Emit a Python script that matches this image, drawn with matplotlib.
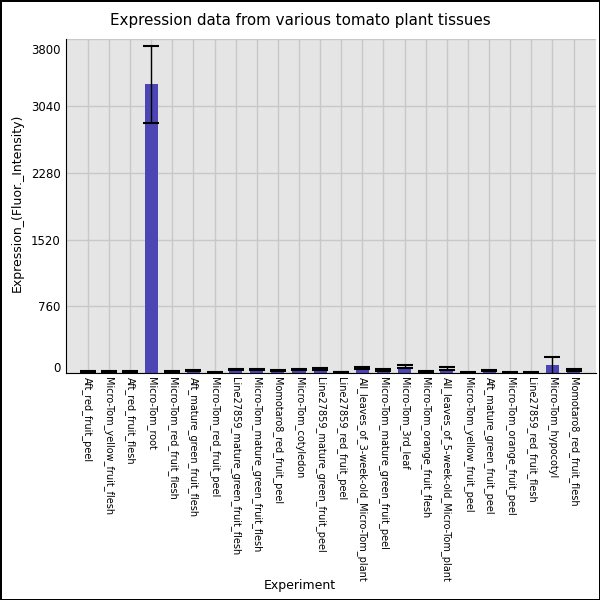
import matplotlib
matplotlib.use("Agg")
import matplotlib.pyplot as plt
import matplotlib.transforms as mtransforms
import numpy as np

categories = [
    "Aft_red_fruit_peel",
    "Micro-Tom_yellow_fruit_flesh",
    "Aft_red_fruit_flesh",
    "Micro-Tom_root",
    "Micro-Tom_red_fruit_flesh",
    "Aft_mature_green_fruit_flesh",
    "Micro-Tom_red_fruit_peel",
    "Line27859_mature_green_fruit_flesh",
    "Micro-Tom_mature_green_fruit_flesh",
    "Momotaro8_red_fruit_peel",
    "Micro-Tom_cotyledon",
    "Line27859_mature_green_fruit_peel",
    "Line27859_red_fruit_peel",
    "All_leaves_of_3-week-old_Micro-Tom_plant",
    "Micro-Tom_mature_green_fruit_peel",
    "Micro-Tom_3rd_leaf",
    "Micro-Tom_orange_fruit_flesh",
    "All_leaves_of_5-week-old_Micro-Tom_plant",
    "Micro-Tom_yellow_fruit_peel",
    "Aft_mature_green_fruit_peel",
    "Micro-Tom_orange_fruit_peel",
    "Line27859_red_fruit_flesh",
    "Micro-Tom_hypocotyl",
    "Momotaro8_red_fruit_flesh",
]
values = [15, 20, 18, 3283, 22, 30, 12, 45, 45, 28, 40, 50,
          14, 58, 35, 75, 15, 52, 12, 30, 12, 10, 90, 35]
errors = [8, 6, 6, 443, 6, 8, 5, 8, 8, 6, 8, 8,
          5, 14, 9, 14, 6, 14, 5, 8, 5, 4, 95, 8]
yticks = [0, 760, 1520, 2280, 3040, 3800]

fig = plt.figure(figsize=(6, 6), dpi=100)
fig.patch.set_edgecolor("black")
fig.patch.set_linewidth(2)
ax = fig.add_axes([0.11, 0.378, 0.883, 0.557])
ax.set_facecolor("#e5e5e5")
x = np.arange(len(categories))
ax.bar(x, values, width=0.62, color="#4c46b5", zorder=2)
ax.errorbar(x, values, yerr=errors, fmt="none", ecolor="black",
            elinewidth=1, capsize=5.5, capthick=1.5, zorder=3)
ax.set_xlim(-1.03, 24.05)
ax.set_ylim(0, 3800)
ax.set_yticks(yticks)
ax.set_yticklabels([str(t) for t in yticks], fontsize=8.5)
ax.set_xticks(x)
ax.set_xticklabels(categories, rotation=-90, fontsize=7, ha="center", va="top")
ax.tick_params(axis="both", length=0)
ax.tick_params(axis="y", pad=4)
ax.tick_params(axis="x", pad=3)
ax.grid(True, color="#c8c8c8", linewidth=1, zorder=0)
ax.set_axisbelow(True)
for s in ["top", "right"]:
    ax.spines[s].set_visible(False)
ax.spines["left"].set_color("black")
ax.spines["bottom"].set_color("black")

labs = ax.get_yticklabels()
labs[-1].set_transform(labs[-1].get_transform() +
                       mtransforms.ScaledTranslation(0, -10 / 100, fig.dpi_scale_trans))
labs[0].set_transform(labs[0].get_transform() +
                      mtransforms.ScaledTranslation(0, 6 / 100, fig.dpi_scale_trans))

ax.set_ylabel("Expression_(Fluor._Intensity)", fontsize=9, labelpad=4)
ax.yaxis.set_label_coords(-0.08, 0.51)
fig.text(0.5, 0.025, "Experiment", ha="center", va="center", fontsize=9)
fig.text(0.5, 0.966, "Expression data from various tomato plant tissues",
         ha="center", va="center", fontsize=10.9)

fig.savefig("out.png", dpi=100, edgecolor=fig.get_edgecolor())
